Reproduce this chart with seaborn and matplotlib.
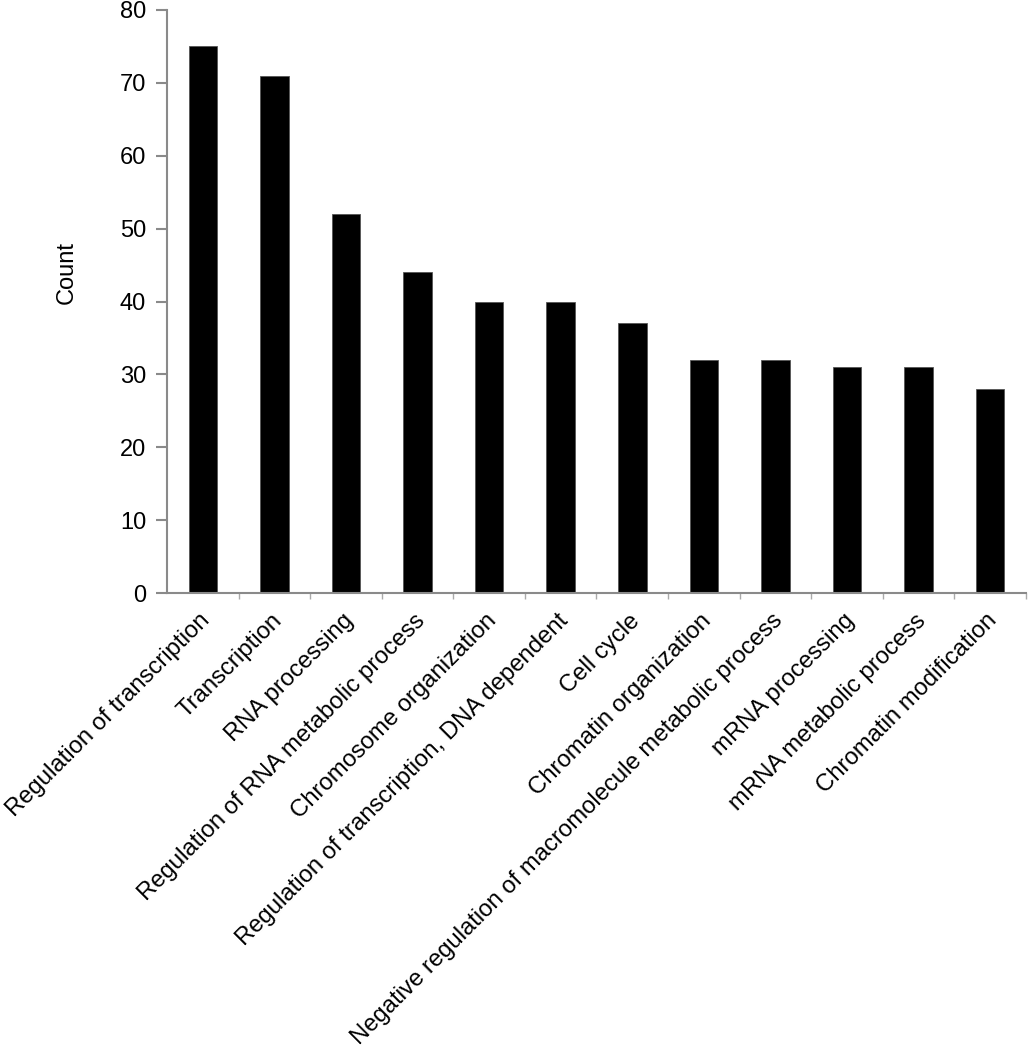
import matplotlib
matplotlib.use("Agg")
import matplotlib.pyplot as plt
import matplotlib.transforms as mtransforms
import seaborn as sns
import pandas as pd
import numpy as np

categories = [
    "Regulation of transcription",
    "Transcription",
    "RNA processing",
    "Regulation of RNA metabolic process",
    "Chromosome organization",
    "Regulation of transcription, DNA dependent",
    "Cell cycle",
    "Chromatin organization",
    "Negative regulation of macromolecule metabolic process",
    "mRNA processing",
    "mRNA metabolic process",
    "Chromatin modification",
]
counts = [75, 71, 52, 44, 40, 40, 37, 32, 32, 31, 31, 28]
yticks = [0, 10, 20, 30, 40, 50, 60, 70, 80]

sns.set_theme(style="white")
plt.rcParams["font.family"] = ["Liberation Sans", "DejaVu Sans"]

df = pd.DataFrame({"category": categories, "count": counts})

fig = plt.figure(figsize=(10.28, 10.5), dpi=100)
ax = fig.add_axes([0.1625, 0.4352, 0.8355, 0.5553])
sns.barplot(data=df, x="category", y="count", color="black", width=0.4,
            edgecolor="#555555", linewidth=0.6, saturation=1, ax=ax)

ax.set_xlim(-0.5, len(categories) - 0.5)
ax.set_ylim(0, 80)
ax.set_yticks(yticks)
for s in ["top", "right"]:
    ax.spines[s].set_visible(False)
for s in ["left", "bottom"]:
    ax.spines[s].set_color("#8a8a8a")
    ax.spines[s].set_linewidth(1.5)

ax.tick_params(axis="y", which="major", direction="out", length=8, width=1.5,
               color="#8a8a8a", labelsize=17, pad=7, left=True,
               labelcolor="black")
ax.tick_params(axis="x", which="major", length=0, pad=12, labelcolor="black")
ax.set_xticks(np.arange(len(categories)) + 0.5, minor=True)
ax.tick_params(axis="x", which="minor", direction="out", length=4, width=1,
               color="#aaaaaa", bottom=True)
ax.set_xticks(range(len(categories)))
ax.set_xticklabels(categories, rotation=45, ha="right", rotation_mode="anchor",
                   fontsize=17.2)
offset = mtransforms.ScaledTranslation(-0.04, 0, fig.dpi_scale_trans)
for lbl in ax.get_xticklabels():
    lbl.set_transform(lbl.get_transform() + offset)
ax.set_xlabel("")
ax.set_ylabel("Count", rotation=90, fontsize=17, color="black")
ax.yaxis.set_label_coords(-0.1036, 0.55)

fig.savefig("out.png", dpi=100, facecolor="white")
